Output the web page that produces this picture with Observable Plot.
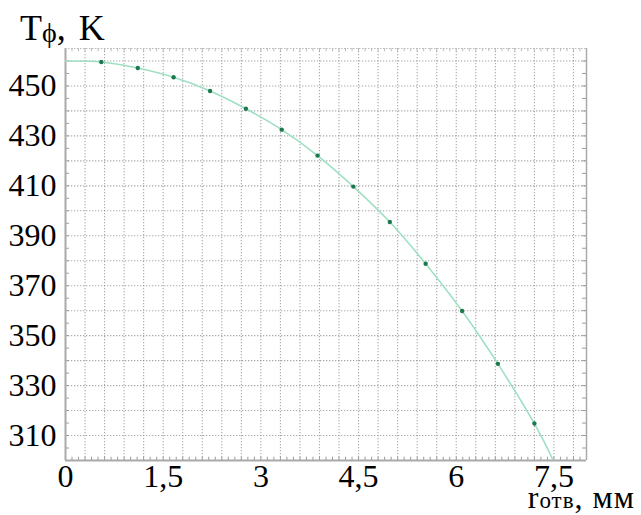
<!DOCTYPE html>
<html>
<head>
<meta charset="utf-8">
<script src="https://cdn.jsdelivr.net/npm/d3@7"></script>
<script src="https://cdn.jsdelivr.net/npm/@observablehq/plot@0.6"></script>
<style>
  body { margin: 0; background: #fff; }
  #chart svg { display: block; }
</style>
</head>
<body>
<div id="chart"></div>
<script>
// Measured points: radius of hole (mm) and temperature (K)
const rPoints = [0.55, 1.11, 1.66, 2.22, 2.77, 3.32, 3.87, 4.42, 4.98, 5.53, 6.09, 6.64, 7.2];
const tPoints = [459.6, 457.2, 453.5, 448.0, 440.9, 432.5, 422.1, 409.7, 395.5, 378.8, 359.9, 338.7, 314.8];
// Fitted curve ends
const rCurveStart = 0, tCurveStart = 460.0;
const rCurveEnd = 7.49, tCurveEnd = 300.0;

// Tick labels
const xTickValues = [0, 1.5, 3, 4.5, 6, 7.5];
const yTickValues = [310, 330, 350, 370, 390, 410, 430, 450];
const xGridValues = d3.range(0, 27).map(i => +(i * 0.3).toFixed(1));
const yGridValues = d3.range(310, 461, 10);
const xMinorValues = d3.range(1, 80).map(i => +(i * 0.1).toFixed(1));
const yMinorValues = d3.range(305, 465, 5);

const points = rPoints.map((r, i) => ({r, t: tPoints[i]}));
const curve = [{r: rCurveStart, t: tCurveStart}, ...points, {r: rCurveEnd, t: tCurveEnd}];

const xDomain = [0, 8];
const yDomain = [300, 465];
const font = "'Liberation Serif', 'Times New Roman', serif";

const chart = Plot.plot({
  width: 641,
  height: 515,
  marginLeft: 65,
  marginRight: 55,
  marginTop: 48,
  marginBottom: 55,
  style: {fontFamily: font, background: "#fff", overflow: "visible"},
  x: {domain: xDomain},
  y: {domain: yDomain},
  marks: [
    Plot.gridX(xGridValues, {stroke: "#8c8c8c", strokeOpacity: 0.75, strokeDasharray: "1.3,1.7", strokeWidth: 1.1}),
    Plot.gridY(yGridValues, {stroke: "#8c8c8c", strokeOpacity: 0.75, strokeDasharray: "1.3,1.7", strokeWidth: 1.1}),
    // minor ticks
    Plot.ruleY(yMinorValues, {x1: 0, x2: 0.06, stroke: "#999", strokeWidth: 1}),
    Plot.ruleY(yMinorValues, {x1: 7.94, x2: 8, stroke: "#999", strokeWidth: 1}),
    Plot.ruleX(xMinorValues, {y1: 300, y2: 301.3, stroke: "#999", strokeWidth: 1}),
    Plot.ruleX(xMinorValues, {y1: 463.7, y2: 465, stroke: "#bbb", strokeWidth: 1}),
    // frame
    Plot.ruleX([0], {stroke: "#aaa", strokeWidth: 2}),
    Plot.ruleX([8], {stroke: "#aaa", strokeWidth: 1.5}),
    Plot.ruleY([300], {stroke: "#aaa", strokeWidth: 2}),
    Plot.ruleY([465], {stroke: "#bbb", strokeWidth: 1, strokeDasharray: "1.5,1.5"}),
    // curve and points
    Plot.line(curve, {x: "r", y: "t", curve: "natural", stroke: "#9fe0c3", strokeWidth: 1.6, clip: true}),
    Plot.dot(points, {x: "r", y: "t", r: 2.2, fill: "#1b7a4c", stroke: "none"}),
    Plot.axisX(xTickValues, {
      tickSize: 0, tickPadding: 4, fontSize: 32, fill: "#000",
      tickFormat: d => String(d).replace(".", ","), label: null
    }),
    Plot.axisY(yTickValues, {
      tickSize: 0, tickPadding: 9, fontSize: 32, fill: "#000", label: null
    })
  ]
});

document.getElementById("chart").appendChild(chart);

const svg = d3.select(chart);
// Y title: Tϕ, K
const yt = svg.append("text")
  .attr("x", 20).attr("y", 40).attr("text-anchor", "start")
  .attr("font-family", font).attr("font-size", 36).attr("fill", "#000");
yt.append("tspan").text("T");
yt.append("tspan").attr("font-size", 28).attr("dy", 2).text("ϕ");
yt.append("tspan").attr("dy", -2).text(",");
yt.append("tspan").attr("dx", 4).text(" K");

// X title: rотв, мм
const xt = svg.append("text")
  .attr("x", 635).attr("y", 508).attr("text-anchor", "end")
  .attr("font-family", font).attr("font-size", 32).attr("fill", "#000")
  .attr("letter-spacing", 1);
xt.append("tspan").text("r");
xt.append("tspan").attr("font-size", 23).text("отв");
xt.append("tspan").text(", мм");
</script>
</body>
</html>
